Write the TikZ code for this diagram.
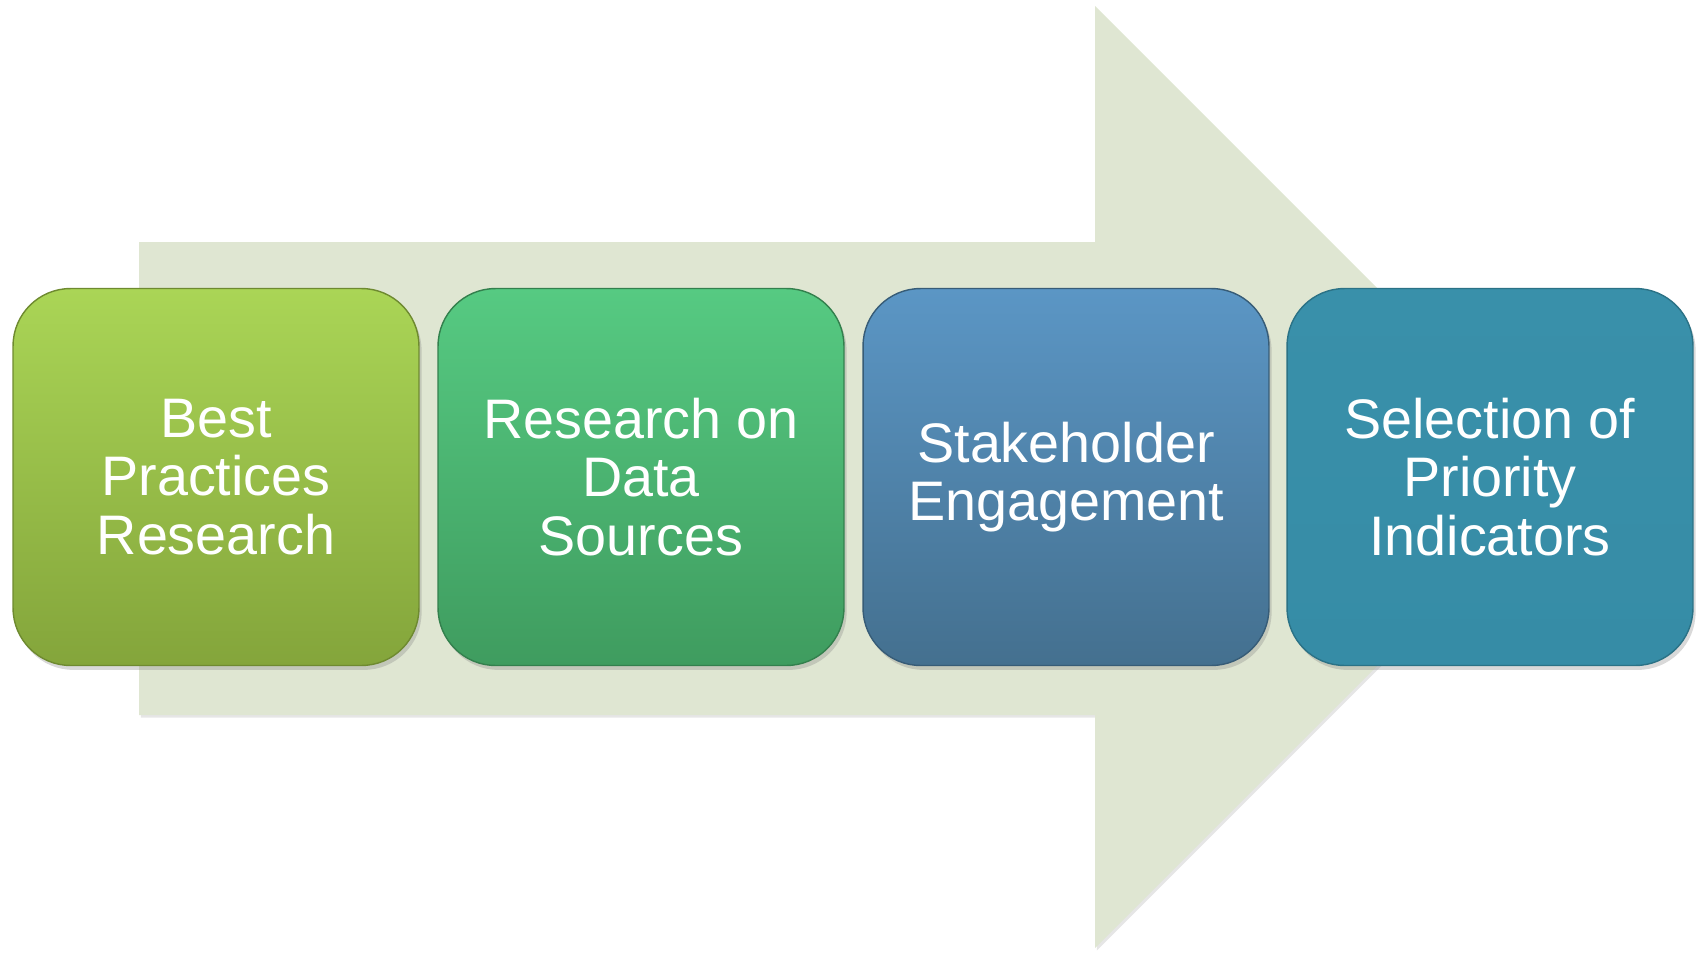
\documentclass[tikz,border=0pt]{standalone}
\usepackage{fontspec}
\setmainfont{Liberation Sans}
\usetikzlibrary{shadows}
\definecolor{arrowfill}{HTML}{DFE6D2}
\definecolor{gAtop}{HTML}{AAD556}
\definecolor{gAbot}{HTML}{84A53B}
\definecolor{gAline}{HTML}{6E8A30}
\definecolor{gBtop}{HTML}{56CA82}
\definecolor{gBbot}{HTML}{3F9C5F}
\definecolor{gBline}{HTML}{33804D}
\definecolor{gCtop}{HTML}{5B96C5}
\definecolor{gCbot}{HTML}{44708F}
\definecolor{gCline}{HTML}{375C77}
\definecolor{gDtop}{HTML}{3990AA}
\definecolor{gDbot}{HTML}{368CA6}
\definecolor{gDline}{HTML}{2B7286}
\begin{document}
\begin{tikzpicture}[x=0.02cm,y=-0.02cm,
  stepbox/.style={rounded corners=1.15cm, minimum width=8.12cm, minimum height=7.54cm,
    align=center, text=white, font=\fontsize{31.7}{33.4}\selectfont, line width=0.8pt,
    drop shadow={shadow xshift=1.5pt, shadow yshift=-2.5pt, opacity=0.3}},
  arrowbg/.style={fill=arrowfill, draw=none,
    drop shadow={shadow xshift=1pt, shadow yshift=-1.5pt, opacity=0.2}}]
\useasboundingbox (0,0) rectangle (1698,954);
\fill[arrowbg] (139,242) -- (1095,242) -- (1095,6) -- (1566,477) -- (1095,948) -- (1095,715) -- (139,715) -- cycle;
\node[stepbox, top color=gAtop, bottom color=gAbot, draw=gAline] (s1) at (216,477) {Best\\Practices\\Research};
\node[stepbox, top color=gBtop, bottom color=gBbot, draw=gBline] (s2) at (641,477) {Research on\\Data\\Sources};
\node[stepbox, top color=gCtop, bottom color=gCbot, draw=gCline] (s3) at (1066,477) {Stakeholder\\Engagement};
\node[stepbox, top color=gDtop, bottom color=gDbot, draw=gDline] (s4) at (1490,477) {Selection of\\Priority\\Indicators};
\end{tikzpicture}
\end{document}
